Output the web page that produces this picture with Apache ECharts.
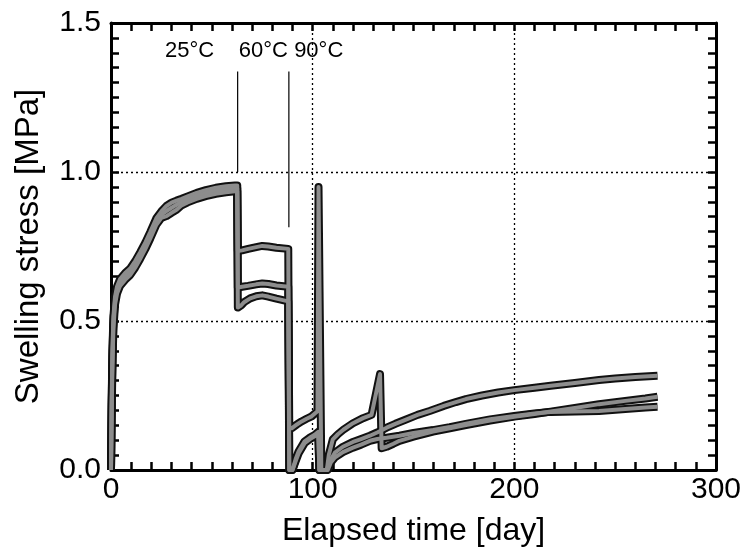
<!DOCTYPE html>
<html>
<head>
<meta charset="utf-8">
<script src="https://cdn.jsdelivr.net/npm/echarts@6/dist/echarts.min.js"></script>
<style>
  html, body { margin: 0; padding: 0; background: #ffffff; }
  #chart { width: 749px; height: 552px; }
</style>
</head>
<body>
<div id="chart"></div>
<script>
// Axis ticks
const xTickValues = [0, 100, 200, 300];
const yTickValues = [0.0, 0.5, 1.0, 1.5];

// Temperature stages
const stageLabels = ['25°C', '60°C', '90°C'];
const stageLabelDays = [39, 75.5, 103];
const stageChangeDays = [62.8, 88.2];
const stageMarkerTop = 1.337;
const stageMarkerBottoms = [1.0, 0.815];
const stageLabelLevel = 1.405;

// Specimen 1 (highest at the end of the test)
const spec1Days = [0, 0.3, 0.7, 1.2, 2, 3, 4.5, 7, 9.5, 12, 14.5, 17, 19.5, 22.5, 25, 27.5, 30, 32.5, 35, 38, 42.5, 47, 52, 57, 61.5, 62.6,
  62.9, 65, 68, 72, 75, 78, 82, 87.9,
  88.4, 90, 91.5, 93, 96, 98.5, 101, 102.8, 103.3, 107, 108.5, 111, 115, 120, 124, 128.4, 132, 136.7, 141, 146.6, 152, 158,
  165, 171, 176, 184, 192, 200, 210, 218, 230, 242, 250, 260, 271];
const spec1Stress = [0, 0.22, 0.40, 0.515, 0.582, 0.616, 0.641, 0.661, 0.676, 0.701, 0.731, 0.763, 0.799, 0.845, 0.868, 0.886, 0.897, 0.904, 0.910, 0.918, 0.930, 0.939, 0.947, 0.952, 0.955, 0.955,
  0.735, 0.737, 0.742, 0.748, 0.752, 0.750, 0.746, 0.742,
  0.0, 0.0, 0.035, 0.062, 0.096, 0.108, 0.118, 0.128, 0.0, 0.0, 0.03, 0.058, 0.078, 0.094, 0.104, 0.115, 0.126, 0.142, 0.155, 0.170, 0.185, 0.198,
  0.215, 0.228, 0.238, 0.250, 0.260, 0.268, 0.276, 0.283, 0.292, 0.302, 0.307, 0.312, 0.316];

// Specimen 2 (spikes at day 103 and day 133)
const spec2Days = [0, 0.3, 0.7, 1.2, 2, 3, 4.5, 7, 9.5, 12, 14.5, 17, 19.5, 22.5, 25, 27.5, 30, 32.5, 35, 38, 42.5, 47, 52, 57, 61.5, 62.6,
  62.9, 65, 68, 72, 75, 78, 82, 87.9,
  88.4, 89.6, 92, 94.5, 97, 99.5, 102.4, 102.9, 103.7, 104.3, 107, 108, 110, 112.5, 115.2, 120, 125, 129.2, 133.4, 134.2, 136.7, 140, 143, 150, 159.7,
  168, 176, 188, 200, 210, 218, 230, 242, 255, 265, 271];
const spec2Stress = [0, 0.20, 0.38, 0.50, 0.57, 0.605, 0.63, 0.65, 0.665, 0.69, 0.72, 0.752, 0.788, 0.834, 0.857, 0.869, 0.880, 0.890, 0.899, 0.908, 0.920, 0.929, 0.937, 0.942, 0.945, 0.945,
  0.612, 0.615, 0.618, 0.623, 0.626, 0.624, 0.619, 0.615,
  0.14, 0.14, 0.152, 0.163, 0.172, 0.18, 0.197, 0.95, 0.95, 0.0, 0.0, 0.05, 0.103, 0.12, 0.135, 0.157, 0.174, 0.185, 0.322, 0.073, 0.078, 0.088, 0.098, 0.112, 0.129,
  0.140, 0.151, 0.166, 0.179, 0.188, 0.196, 0.208, 0.221, 0.232, 0.240, 0.246];

// Specimen 3 (lowest at the end of the test)
const spec3Days = [0, 0.3, 0.7, 1.2, 2, 3, 4.5, 7, 9.5, 12, 14.5, 17, 19.5, 22.5, 25, 27.5, 30, 32.5, 35, 38, 42.5, 47, 52, 57, 61.5, 62.6,
  62.9, 64.5, 66, 69, 72, 75, 78, 82, 87.9,
  88.4, 90, 91.5, 93, 96, 98.5, 101, 102.8, 103.3, 107.5, 109, 111, 115, 120, 124, 128.4, 132, 136.7, 143, 150, 159.7,
  168, 176, 188, 200, 210, 218, 230, 242, 255, 265, 271];
const spec3Stress = [0, 0.17, 0.35, 0.475, 0.555, 0.592, 0.618, 0.638, 0.654, 0.679, 0.709, 0.741, 0.777, 0.823, 0.846, 0.852, 0.863, 0.873, 0.888, 0.898, 0.910, 0.919, 0.927, 0.932, 0.935, 0.935,
  0.545, 0.552, 0.563, 0.576, 0.583, 0.586, 0.582, 0.575, 0.566,
  0.0, 0.0, 0.028, 0.055, 0.09, 0.103, 0.113, 0.122, 0.0, 0.0, 0.025, 0.042, 0.06, 0.075, 0.085, 0.098, 0.104, 0.108, 0.115, 0.124, 0.134,
  0.144, 0.155, 0.170, 0.181, 0.190, 0.195, 0.196, 0.198, 0.205, 0.210, 0.212];

const FONT = '"Liberation Sans", Arial, Helvetica, sans-serif';
const INK = '#000000';
const BAND_EDGE = '#111111';
const BAND_FILL = '#8d8d8d';

const toPairs = (days, vals) => days.map((d, i) => [d, vals[i]]);
const specimens = [
  toPairs(spec1Days, spec1Stress),
  toPairs(spec2Days, spec2Stress),
  toPairs(spec3Days, spec3Stress)
];

// Each specimen is drawn as a thick dark stroke with a grey core on top,
// all dark strokes first so that overlapping specimens merge into one band.
const bandEdges = specimens.map((pts) => ({
  type: 'line', data: pts, showSymbol: false, symbol: 'none', z: 3,
  lineStyle: { color: BAND_EDGE, width: 8, join: 'round', cap: 'butt' },
  silent: true, animation: false
}));
const bandCores = specimens.map((pts) => ({
  type: 'line', data: pts, showSymbol: false, symbol: 'none', z: 4,
  lineStyle: { color: BAND_FILL, width: 4, join: 'round', cap: 'butt' },
  silent: true, animation: false
}));

// Thin vertical markers at the temperature changes
const stageMarkers = stageChangeDays.map((d, i) => ({
  type: 'line', data: [[d, stageMarkerTop], [d, stageMarkerBottoms[i]]],
  showSymbol: false, symbol: 'none', z: 5,
  lineStyle: { color: INK, width: 1.2 }, silent: true, animation: false
}));

const stageText = {
  type: 'scatter', symbolSize: 0, z: 6, animation: false, silent: true,
  itemStyle: { opacity: 1 },
  data: stageLabels.map((t, i) => ({ name: t, value: [stageLabelDays[i], stageLabelLevel] })),
  label: {
    show: true, position: 'inside', formatter: (p) => p.name, opacity: 1,
    color: INK, fontFamily: FONT, fontSize: 22
  }
};

const tickStyle = { color: INK, width: 2.5 };
const baseX = {
  type: 'value', min: xTickValues[0], max: xTickValues[xTickValues.length - 1],
  interval: xTickValues[1] - xTickValues[0],
  axisLine: { show: true, onZero: false, lineStyle: { color: INK, width: 3 } },
  axisTick: { show: true, inside: true, length: 8, lineStyle: tickStyle },
  minorTick: { show: true, splitNumber: 10, length: 8, lineStyle: tickStyle }
};
const baseY = {
  type: 'value', min: yTickValues[0], max: yTickValues[yTickValues.length - 1],
  interval: yTickValues[1] - yTickValues[0],
  axisLine: { show: true, onZero: false, lineStyle: { color: INK, width: 3 } },
  axisTick: { show: true, inside: true, length: 8, lineStyle: tickStyle },
  minorTick: { show: true, splitNumber: 10, length: 8, lineStyle: tickStyle }
};
const dotted = { show: true, lineStyle: { color: INK, width: 1.3, type: [2, 3] } };

const option = {
  backgroundColor: '#ffffff',
  animation: false,
  grid: { left: 111, right: 33, top: 23, bottom: 80 },
  xAxis: [
    Object.assign({}, baseX, {
      position: 'bottom',
      name: 'Elapsed time [day]', nameLocation: 'middle', nameGap: 45,
      nameTextStyle: { color: INK, fontFamily: FONT, fontSize: 32 },
      axisLabel: { color: INK, fontFamily: FONT, fontSize: 30, margin: 5 },
      splitLine: dotted
    }),
    Object.assign({}, baseX, { position: 'top', axisLabel: { show: false }, splitLine: { show: false } })
  ],
  yAxis: [
    Object.assign({}, baseY, {
      position: 'left',
      name: 'Swelling stress [MPa]', nameLocation: 'middle', nameGap: 66,
      nameTextStyle: { color: INK, fontFamily: FONT, fontSize: 33 },
      axisLabel: { color: INK, fontFamily: FONT, fontSize: 30, margin: 10, formatter: (v) => v.toFixed(1) },
      splitLine: dotted
    }),
    Object.assign({}, baseY, { position: 'right', axisLabel: { show: false }, splitLine: { show: false } })
  ],
  series: [].concat(bandEdges, bandCores, stageMarkers, [stageText])
};

const chart = echarts.init(document.getElementById('chart'), null, { renderer: 'canvas' });
chart.setOption(option);
</script>
</body>
</html>
